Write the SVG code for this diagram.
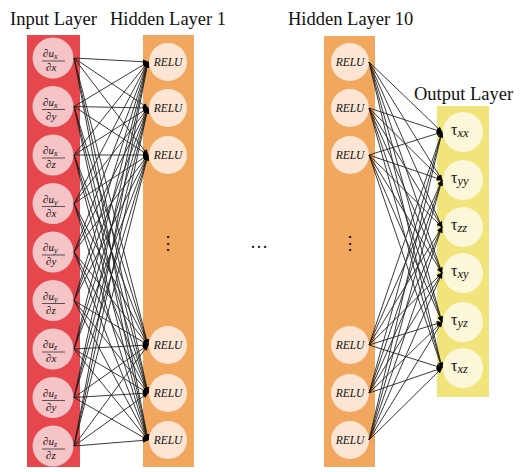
<svg xmlns="http://www.w3.org/2000/svg" width="520" height="472" viewBox="0 0 520 472">
<style>
.t{font-family:"Liberation Serif","Times New Roman",serif;fill:#111}
.title{font-size:18.5px}
.relu{font-size:11.5px;font-style:italic;text-anchor:middle}
.fr{font-size:11px;font-style:italic}
.tau{font-size:16px}
.sub{font-size:12.5px;font-style:italic}
.ic{fill:#f5c4c6}
.hc{fill:#fce6d3}
.oc{fill:#fcf7d8}
.fl{stroke:#333;stroke-width:0.8}
.c line{stroke:#222;stroke-width:0.9;marker-end:url(#ah)}
</style>
<defs>
<marker id="ah" viewBox="0 0 10 10" refX="9" refY="5" markerWidth="6" markerHeight="6" orient="auto" markerUnits="userSpaceOnUse">
<path d="M0,1 L10,5 L0,9 z" fill="#000"/>
</marker>
</defs>
<rect width="520" height="472" fill="#fff"/>
<rect x="27" y="35" width="53" height="432" fill="#e6474c"/>
<rect x="143" y="35" width="51" height="432" fill="#f2a75f"/>
<rect x="324" y="36" width="51" height="431" fill="#f2a75f"/>
<rect x="437" y="106" width="52" height="291" fill="#f1e47b"/>
<text class="t title" x="10" y="25">Input Layer</text>
<text class="t title" x="110" y="25">Hidden Layer 1</text>
<text class="t title" x="288" y="25">Hidden Layer 10</text>
<text class="t title" x="414" y="100">Output Layer</text>
<g id="input-nodes">
<g id="in1"><circle class="ic" cx="53" cy="58" r="20.5"/><text class="t fr" x="43" y="57">∂u<tspan font-size="8" dy="2">x</tspan></text><line class="fl" x1="42" y1="61" x2="65" y2="61"/><text class="t fr" x="46" y="71">∂x</text></g>
<g id="in2"><circle class="ic" cx="53" cy="106.5" r="20.5"/><text class="t fr" x="43" y="105.5">∂u<tspan font-size="8" dy="2">x</tspan></text><line class="fl" x1="42" y1="109.5" x2="65" y2="109.5"/><text class="t fr" x="46" y="119.5">∂y</text></g>
<g id="in3"><circle class="ic" cx="53" cy="155" r="20.5"/><text class="t fr" x="43" y="154">∂u<tspan font-size="8" dy="2">x</tspan></text><line class="fl" x1="42" y1="158" x2="65" y2="158"/><text class="t fr" x="46" y="168">∂z</text></g>
<g id="in4"><circle class="ic" cx="53" cy="203.5" r="20.5"/><text class="t fr" x="43" y="202.5">∂u<tspan font-size="8" dy="2">y</tspan></text><line class="fl" x1="42" y1="206.5" x2="65" y2="206.5"/><text class="t fr" x="46" y="216.5">∂x</text></g>
<g id="in5"><circle class="ic" cx="53" cy="252" r="20.5"/><text class="t fr" x="43" y="251">∂u<tspan font-size="8" dy="2">y</tspan></text><line class="fl" x1="42" y1="255" x2="65" y2="255"/><text class="t fr" x="46" y="265">∂y</text></g>
<g id="in6"><circle class="ic" cx="53" cy="300.5" r="20.5"/><text class="t fr" x="43" y="299.5">∂u<tspan font-size="8" dy="2">y</tspan></text><line class="fl" x1="42" y1="303.5" x2="65" y2="303.5"/><text class="t fr" x="46" y="313.5">∂z</text></g>
<g id="in7"><circle class="ic" cx="53" cy="349" r="20.5"/><text class="t fr" x="43" y="348">∂u<tspan font-size="8" dy="2">z</tspan></text><line class="fl" x1="42" y1="352" x2="65" y2="352"/><text class="t fr" x="46" y="362">∂x</text></g>
<g id="in8"><circle class="ic" cx="53" cy="397.5" r="20.5"/><text class="t fr" x="43" y="396.5">∂u<tspan font-size="8" dy="2">z</tspan></text><line class="fl" x1="42" y1="400.5" x2="65" y2="400.5"/><text class="t fr" x="46" y="410.5">∂y</text></g>
<g id="in9"><circle class="ic" cx="53" cy="446" r="20.5"/><text class="t fr" x="43" y="445">∂u<tspan font-size="8" dy="2">z</tspan></text><line class="fl" x1="42" y1="449" x2="65" y2="449"/><text class="t fr" x="46" y="459">∂z</text></g>
</g>
<g id="hidden1-nodes">
<g id="h1a"><circle class="hc" cx="168" cy="62" r="19"/><text class="t relu" x="168" y="66">RELU</text></g>
<g id="h1b"><circle class="hc" cx="168" cy="108" r="19"/><text class="t relu" x="168" y="112">RELU</text></g>
<g id="h1c"><circle class="hc" cx="168" cy="155" r="19"/><text class="t relu" x="168" y="159">RELU</text></g>
<g id="h1d"><circle class="hc" cx="168" cy="345" r="19"/><text class="t relu" x="168" y="349">RELU</text></g>
<g id="h1e"><circle class="hc" cx="168" cy="393" r="19"/><text class="t relu" x="168" y="397">RELU</text></g>
<g id="h1f"><circle class="hc" cx="168" cy="440" r="19"/><text class="t relu" x="168" y="444">RELU</text></g>
<text class="t" x="168" y="249" font-size="18" text-anchor="middle">⋮</text>
</g>
<g id="hidden10-nodes">
<g id="h10a"><circle class="hc" cx="350" cy="62" r="19"/><text class="t relu" x="350" y="66">RELU</text></g>
<g id="h10b"><circle class="hc" cx="350" cy="108" r="19"/><text class="t relu" x="350" y="112">RELU</text></g>
<g id="h10c"><circle class="hc" cx="350" cy="155" r="19"/><text class="t relu" x="350" y="159">RELU</text></g>
<g id="h10d"><circle class="hc" cx="350" cy="345" r="19"/><text class="t relu" x="350" y="349">RELU</text></g>
<g id="h10e"><circle class="hc" cx="350" cy="393" r="19"/><text class="t relu" x="350" y="397">RELU</text></g>
<g id="h10f"><circle class="hc" cx="350" cy="440" r="19"/><text class="t relu" x="350" y="444">RELU</text></g>
<text class="t" x="350" y="249" font-size="18" text-anchor="middle">⋮</text>
</g>
<text class="t" x="259" y="248" font-size="18" text-anchor="middle">…</text>
<g id="output-nodes">
<g id="o1"><circle class="oc" cx="463" cy="132" r="20"/><text class="t tau" x="451" y="135">τ<tspan class="sub" dy="2">xx</tspan></text></g>
<g id="o2"><circle class="oc" cx="463" cy="180" r="20"/><text class="t tau" x="451" y="183">τ<tspan class="sub" dy="2">yy</tspan></text></g>
<g id="o3"><circle class="oc" cx="463" cy="227" r="20"/><text class="t tau" x="451" y="230">τ<tspan class="sub" dy="2">zz</tspan></text></g>
<g id="o4"><circle class="oc" cx="463" cy="273" r="20"/><text class="t tau" x="451" y="276">τ<tspan class="sub" dy="2">xy</tspan></text></g>
<g id="o5"><circle class="oc" cx="463" cy="322" r="20"/><text class="t tau" x="451" y="325">τ<tspan class="sub" dy="2">yz</tspan></text></g>
<g id="o6"><circle class="oc" cx="463" cy="368" r="20"/><text class="t tau" x="451" y="371">τ<tspan class="sub" dy="2">xz</tspan></text></g>
</g>
<g id="connectors" class="c">
<line x1="74" y1="58" x2="148" y2="62"/><line x1="74" y1="58" x2="148" y2="108"/><line x1="74" y1="58" x2="148" y2="155"/><line x1="74" y1="58" x2="148" y2="345"/><line x1="74" y1="58" x2="148" y2="393"/><line x1="74" y1="58" x2="148" y2="440"/>
<line x1="74" y1="106.5" x2="148" y2="62"/><line x1="74" y1="106.5" x2="148" y2="108"/><line x1="74" y1="106.5" x2="148" y2="155"/><line x1="74" y1="106.5" x2="148" y2="345"/><line x1="74" y1="106.5" x2="148" y2="393"/><line x1="74" y1="106.5" x2="148" y2="440"/>
<line x1="74" y1="155" x2="148" y2="62"/><line x1="74" y1="155" x2="148" y2="108"/><line x1="74" y1="155" x2="148" y2="155"/><line x1="74" y1="155" x2="148" y2="345"/><line x1="74" y1="155" x2="148" y2="393"/><line x1="74" y1="155" x2="148" y2="440"/>
<line x1="74" y1="203.5" x2="148" y2="62"/><line x1="74" y1="203.5" x2="148" y2="108"/><line x1="74" y1="203.5" x2="148" y2="155"/><line x1="74" y1="203.5" x2="148" y2="345"/><line x1="74" y1="203.5" x2="148" y2="393"/><line x1="74" y1="203.5" x2="148" y2="440"/>
<line x1="74" y1="252" x2="148" y2="62"/><line x1="74" y1="252" x2="148" y2="108"/><line x1="74" y1="252" x2="148" y2="155"/><line x1="74" y1="252" x2="148" y2="345"/><line x1="74" y1="252" x2="148" y2="393"/><line x1="74" y1="252" x2="148" y2="440"/>
<line x1="74" y1="300.5" x2="148" y2="62"/><line x1="74" y1="300.5" x2="148" y2="108"/><line x1="74" y1="300.5" x2="148" y2="155"/><line x1="74" y1="300.5" x2="148" y2="345"/><line x1="74" y1="300.5" x2="148" y2="393"/><line x1="74" y1="300.5" x2="148" y2="440"/>
<line x1="74" y1="349" x2="148" y2="62"/><line x1="74" y1="349" x2="148" y2="108"/><line x1="74" y1="349" x2="148" y2="155"/><line x1="74" y1="349" x2="148" y2="345"/><line x1="74" y1="349" x2="148" y2="393"/><line x1="74" y1="349" x2="148" y2="440"/>
<line x1="74" y1="397.5" x2="148" y2="62"/><line x1="74" y1="397.5" x2="148" y2="108"/><line x1="74" y1="397.5" x2="148" y2="155"/><line x1="74" y1="397.5" x2="148" y2="345"/><line x1="74" y1="397.5" x2="148" y2="393"/><line x1="74" y1="397.5" x2="148" y2="440"/>
<line x1="74" y1="446" x2="148" y2="62"/><line x1="74" y1="446" x2="148" y2="108"/><line x1="74" y1="446" x2="148" y2="155"/><line x1="74" y1="446" x2="148" y2="345"/><line x1="74" y1="446" x2="148" y2="393"/><line x1="74" y1="446" x2="148" y2="440"/>
<line x1="369" y1="62" x2="442" y2="132"/><line x1="369" y1="62" x2="442" y2="180"/><line x1="369" y1="62" x2="442" y2="227"/><line x1="369" y1="62" x2="442" y2="273"/><line x1="369" y1="62" x2="442" y2="322"/><line x1="369" y1="62" x2="442" y2="368"/>
<line x1="369" y1="108" x2="442" y2="132"/><line x1="369" y1="108" x2="442" y2="180"/><line x1="369" y1="108" x2="442" y2="227"/><line x1="369" y1="108" x2="442" y2="273"/><line x1="369" y1="108" x2="442" y2="322"/><line x1="369" y1="108" x2="442" y2="368"/>
<line x1="369" y1="155" x2="442" y2="132"/><line x1="369" y1="155" x2="442" y2="180"/><line x1="369" y1="155" x2="442" y2="227"/><line x1="369" y1="155" x2="442" y2="273"/><line x1="369" y1="155" x2="442" y2="322"/><line x1="369" y1="155" x2="442" y2="368"/>
<line x1="369" y1="345" x2="442" y2="132"/><line x1="369" y1="345" x2="442" y2="180"/><line x1="369" y1="345" x2="442" y2="227"/><line x1="369" y1="345" x2="442" y2="273"/><line x1="369" y1="345" x2="442" y2="322"/><line x1="369" y1="345" x2="442" y2="368"/>
<line x1="369" y1="393" x2="442" y2="132"/><line x1="369" y1="393" x2="442" y2="180"/><line x1="369" y1="393" x2="442" y2="227"/><line x1="369" y1="393" x2="442" y2="273"/><line x1="369" y1="393" x2="442" y2="322"/><line x1="369" y1="393" x2="442" y2="368"/>
<line x1="369" y1="440" x2="442" y2="132"/><line x1="369" y1="440" x2="442" y2="180"/><line x1="369" y1="440" x2="442" y2="227"/><line x1="369" y1="440" x2="442" y2="273"/><line x1="369" y1="440" x2="442" y2="322"/><line x1="369" y1="440" x2="442" y2="368"/>
</g>
</svg>
